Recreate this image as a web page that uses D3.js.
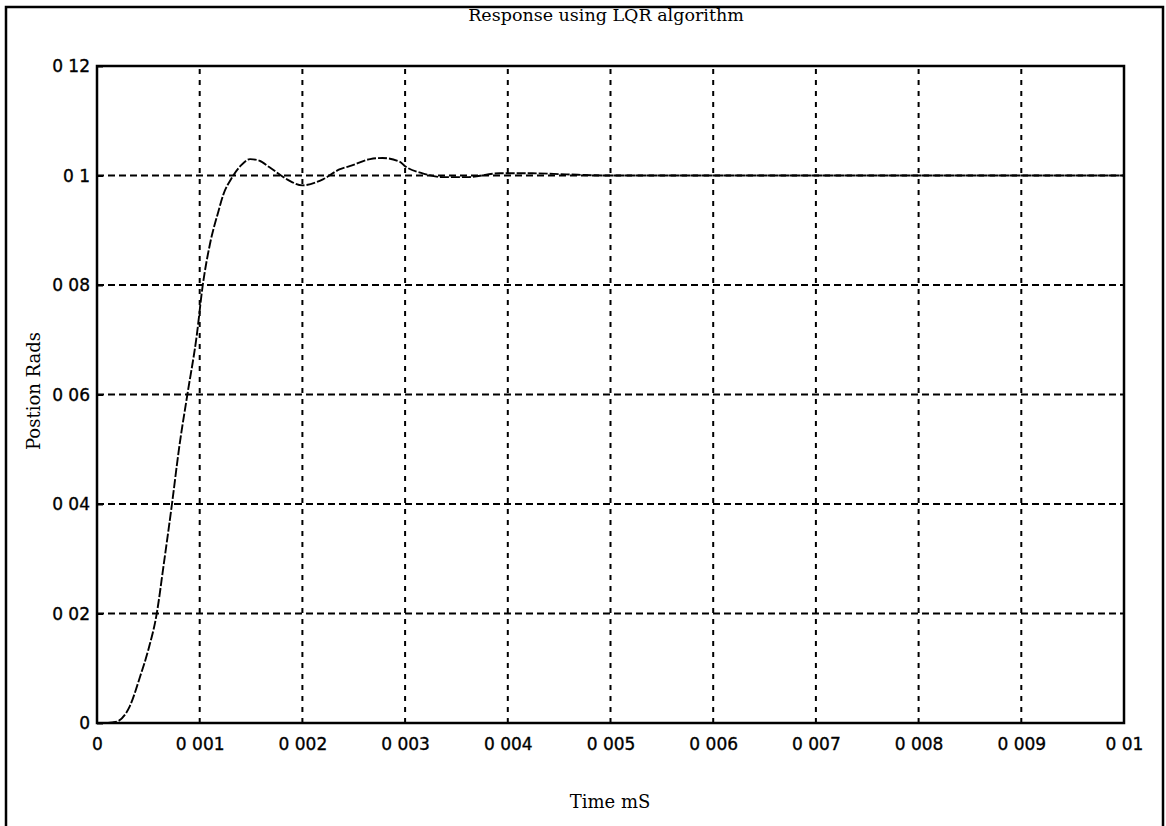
<!DOCTYPE html>
<html>
<head>
<meta charset="utf-8">
<script src="https://cdn.jsdelivr.net/npm/d3@7"></script>
<style>
  html, body { margin: 0; padding: 0; background: #fff; }
  svg { display: block; }
</style>
</head>
<body>
<svg id="chart" width="1166" height="826"></svg>
<script>
// ---- data ----
const timeValues = [0, 0.0001, 0.00015, 0.0002, 0.00032, 0.00042, 0.0005, 0.00058, 0.00065, 0.00073, 0.0008, 0.00088, 0.00097, 0.00103, 0.0011, 0.00118, 0.00123, 0.00131, 0.0014, 0.00149, 0.00158, 0.00168, 0.00185, 0.002, 0.0022, 0.00236, 0.00246, 0.00266, 0.00278, 0.00295, 0.003, 0.00317, 0.00337, 0.0036, 0.00392, 0.00424, 0.00457, 0.005, 0.006, 0.007, 0.008, 0.009, 0.01];
const positionValues = [0, 0, 0.0001, 0.0003, 0.0031, 0.0085, 0.0134, 0.0198, 0.029, 0.04, 0.0503, 0.06, 0.0706, 0.08, 0.0875, 0.0933, 0.0965, 0.0995, 0.1018, 0.103, 0.1027, 0.1015, 0.0993, 0.0982, 0.0993, 0.1011, 0.1017, 0.103, 0.1032, 0.1025, 0.1017, 0.1004, 0.0997, 0.0997, 0.1004, 0.1004, 0.1002, 0.1, 0.1, 0.1, 0.1, 0.1, 0.1];
const xTicks = [0, 0.001, 0.002, 0.003, 0.004, 0.005, 0.006, 0.007, 0.008, 0.009, 0.01];
const xTickLabels = ["0", "0 001", "0 002", "0 003", "0 004", "0 005", "0 006", "0 007", "0 008", "0 009", "0 01"];
const yTicks = [0, 0.02, 0.04, 0.06, 0.08, 0.1, 0.12];
const yTickLabels = ["0", "0 02", "0 04", "0 06", "0 08", "0 1", "0 12"];
const titleText = "Response using LQR algorithm";
const xLabelText = "Time mS";
const yLabelText = "Postion Rads";

// ---- layout ----
const svg = d3.select("#chart");
const plot = { left: 97, right: 1124, top: 66, bottom: 723 };

// outer frame (left, top, right only)
svg.append("path")
  .attr("d", "M6,826 L6,7 L1163,7 L1163,826")
  .attr("fill", "none").attr("stroke", "#000").attr("stroke-width", 2.5);

const x = d3.scaleLinear().domain([0, 0.01]).range([plot.left, plot.right]);
const y = d3.scaleLinear().domain([0, 0.12]).range([plot.bottom, plot.top]);

// grid
const grid = svg.append("g");
grid.selectAll("line.hg").data(yTicks.slice(1, -1)).enter().append("line")
  .attr("x1", plot.left).attr("x2", plot.right)
  .attr("y1", d => y(d)).attr("y2", d => y(d))
  .attr("stroke", "#000").attr("stroke-width", 2).attr("stroke-dasharray", "7,4");
grid.selectAll("line.vg").data(xTicks.slice(1, -1)).enter().append("line")
  .attr("y1", plot.bottom).attr("y2", plot.top)
  .attr("x1", d => x(d)).attr("x2", d => x(d))
  .attr("stroke", "#000").attr("stroke-width", 2).attr("stroke-dasharray", "5,6");

// curve
const line = d3.line().x((d, i) => x(timeValues[i])).y(d => y(d)).curve(d3.curveMonotoneX);
svg.append("path").datum(positionValues)
  .attr("d", line)
  .attr("fill", "none").attr("stroke", "#000").attr("stroke-width", 1.9)
  .attr("stroke-dasharray", "9,2");

// axes
const xAxis = d3.axisBottom(x).tickValues(xTicks).tickFormat((d, i) => xTickLabels[i]).tickSize(0).tickPadding(15);
const yAxis = d3.axisLeft(y).tickValues(yTicks).tickFormat((d, i) => yTickLabels[i]).tickSize(-6).tickPadding(8);

const gx = svg.append("g").attr("transform", `translate(0,${plot.bottom})`).call(xAxis);
const gy = svg.append("g").attr("transform", `translate(${plot.left},0)`).call(yAxis);
[gx, gy].forEach(g => {
  g.select(".domain").remove();
  g.selectAll("text")
    .attr("font-family", "DejaVu Sans, Verdana, sans-serif")
    .attr("font-size", 17).attr("fill", "#000")
    .attr("stroke", "#000").attr("stroke-width", 0.35);
  g.selectAll(".tick line").attr("stroke", "#000").attr("stroke-width", 2);
});
gy.selectAll("text").attr("x", -7).attr("dy", "0.35em");

// plot box
svg.append("rect")
  .attr("x", plot.left).attr("y", plot.top)
  .attr("width", plot.right - plot.left).attr("height", plot.bottom - plot.top)
  .attr("fill", "none").attr("stroke", "#000").attr("stroke-width", 2.5);

// texts
svg.append("text").attr("x", 606).attr("y", 21).attr("text-anchor", "middle")
  .attr("font-family", "DejaVu Serif, serif").attr("font-size", 17.5).attr("fill", "#000")
  .text(titleText);
svg.append("text").attr("x", 610).attr("y", 808).attr("text-anchor", "middle")
  .attr("font-family", "DejaVu Serif, serif").attr("font-size", 18).attr("fill", "#000")
  .text(xLabelText);
svg.append("text").attr("transform", "translate(40,391) rotate(-90)").attr("text-anchor", "middle")
  .attr("font-family", "DejaVu Serif, serif").attr("font-size", 18).attr("fill", "#000")
  .text(yLabelText);
</script>
</body>
</html>
